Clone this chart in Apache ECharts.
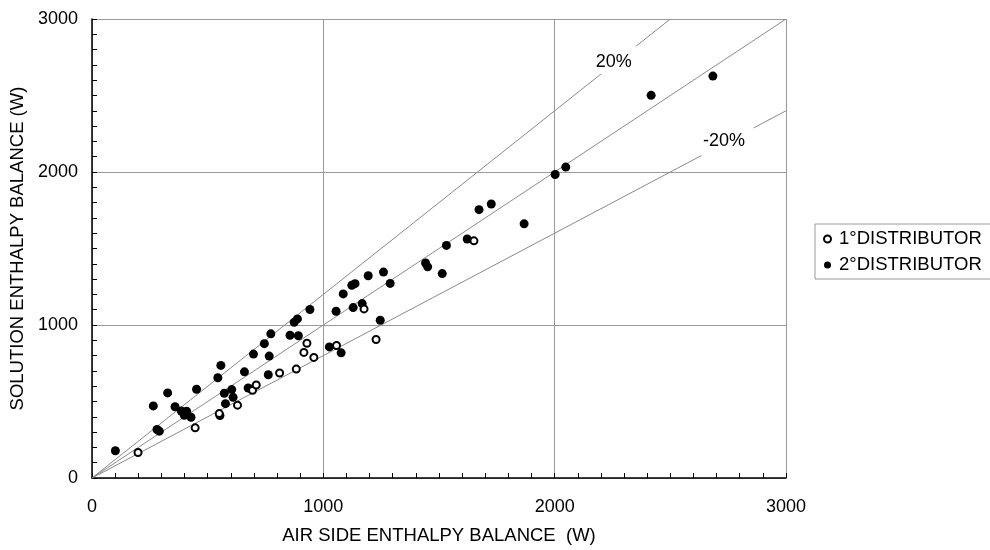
<!DOCTYPE html>
<html>
<head>
<meta charset="utf-8">
<title>enthalpy balance</title>
<script src="https://cdn.jsdelivr.net/npm/echarts@6/dist/echarts.min.js"></script>
<style>
  html, body { margin: 0; padding: 0; background: #fff; }
  #chart { width: 990px; height: 550px; }
</style>
</head>
<body>
<div id="chart"></div>
<script>
// 1° distributor (open circles): [air side W, solution W]
var dist1 = [
  [199, 167], [446, 328], [550, 421], [629, 476], [694, 573], [710, 608],
  [811, 686], [883, 712], [916, 821], [929, 881], [959, 788], [1057, 866],
  [1176, 1105], [1228, 905], [1651, 1550]
];
// 2° distributor (filled circles)
var dist2 = [
  [101, 178], [265, 471], [281, 317], [291, 306], [327, 556], [359, 466],
  [386, 438], [399, 410], [409, 436], [428, 397], [452, 580], [544, 655],
  [553, 408], [557, 736], [572, 554], [577, 486], [604, 578], [610, 527],
  [659, 694], [675, 588], [690, 580], [698, 810], [745, 878], [762, 675],
  [766, 797], [773, 942], [856, 933], [874, 1018], [888, 1040], [892, 930],
  [942, 1101], [1026, 857], [1055, 1090], [1077, 818], [1086, 1203],
  [1123, 1259], [1137, 1270], [1129, 1114], [1168, 1140], [1194, 1322],
  [1246, 1031], [1260, 1346], [1289, 1272], [1442, 1405], [1451, 1380],
  [1514, 1336], [1532, 1520], [1622, 1562], [1673, 1754], [1726, 1791],
  [1868, 1661], [2002, 1984], [2048, 2032], [2417, 2501], [2684, 2627]
];
var seriesNames = ["1°DISTRIBUTOR", "2°DISTRIBUTOR"];

// reference lines y = k*x, drawn in pieces (gaps where the labels sit)
var refSlopes = [1.0, 1.2, 0.8];
var refPieces = [
  [[0, 3000]],
  [[0, 2200], [2350, 2500]],
  [[0, 2635], [2860, 3000]]
];
var refLabels = ["20%", "-20%"];
var refLabelPos = [[2255, 2720], [2732, 2200]];

var axisTicks = [0, 1000, 2000, 3000];

var FONT = "Liberation Sans, Arial, sans-serif";

var myChart = echarts.init(document.getElementById("chart"), null, { renderer: "canvas" });

var series = [];
for (var i = 0; i < refSlopes.length; i++) {
  for (var j = 0; j < refPieces[i].length; j++) {
    var p = refPieces[i][j];
    series.push({
      type: "line",
      silent: true,
      symbol: "none",
      z: 1,
      lineStyle: { color: "#8a8a8a", width: 1 },
      data: [[p[0], p[0] * refSlopes[i]], [p[1], p[1] * refSlopes[i]]]
    });
  }
}
series.push({
  type: "scatter",
  silent: true,
  symbolSize: 0,
  z: 2,
  itemStyle: { opacity: 1 },
  label: {
    show: true,
    position: "inside",
    formatter: function (params) { return refLabels[params.dataIndex]; },
    color: "#000",
    fontSize: 18,
    fontFamily: FONT
  },
  data: refLabelPos
});
series.push({
  name: seriesNames[0],
  type: "scatter",
  symbol: "circle",
  symbolSize: 7,
  z: 5,
  itemStyle: { color: "#fff", borderColor: "#000", borderWidth: 2, opacity: 1 },
  data: dist1
});
series.push({
  name: seriesNames[1],
  type: "scatter",
  symbol: "circle",
  symbolSize: 9,
  z: 4,
  itemStyle: { color: "#000", opacity: 1 },
  data: dist2
});

var option = {
  backgroundColor: "#fff",
  animation: false,
  grid: { left: 92, right: 204, top: 19, bottom: 69 },
  legend: {
    orient: "vertical",
    left: 815,
    top: 224,
    padding: [5, 14, 4, 8],
    itemGap: 6,
    itemWidth: 7,
    itemHeight: 7,
    borderColor: "#999",
    borderWidth: 1,
    data: seriesNames,
    textStyle: { color: "#000", fontSize: 18.5, fontFamily: FONT, lineHeight: 20, padding: [0, 0, 0, 3] }
  },
  xAxis: {
    type: "value",
    min: axisTicks[0],
    max: axisTicks[axisTicks.length - 1],
    interval: 1000,
    name: "AIR SIDE ENTHALPY BALANCE  (W)",
    nameLocation: "middle",
    nameGap: 48,
    nameTextStyle: { color: "#000", fontSize: 18.5, fontFamily: FONT },
    axisLine: { lineStyle: { color: "#000", width: 1.5 } },
    axisTick: { inside: true, length: 5, lineStyle: { color: "#000" } },
    minorTick: { show: true, splitNumber: 10, length: 5, lineStyle: { color: "#000" } },
    axisLabel: { color: "#000", fontSize: 18, fontFamily: FONT, margin: 20, formatter: function (v) { return String(v); } },
    splitLine: { show: true, lineStyle: { color: "#9a9a9a", width: 1 } }
  },
  yAxis: {
    type: "value",
    min: axisTicks[0],
    max: axisTicks[axisTicks.length - 1],
    interval: 1000,
    name: "SOLUTION ENTHALPY BALANCE (W)",
    nameLocation: "middle",
    nameGap: 54,
    nameTextStyle: { color: "#000", fontSize: 18.5, fontFamily: FONT },
    axisLine: { show: true, lineStyle: { color: "#000", width: 1.5 } },
    axisTick: { show: true, inside: true, length: 5, lineStyle: { color: "#000" } },
    minorTick: { show: true, splitNumber: 10, length: 5, lineStyle: { color: "#000" } },
    axisLabel: { color: "#000", fontSize: 18, fontFamily: FONT, margin: 14, formatter: function (v) { return String(v); } },
    splitLine: { show: true, lineStyle: { color: "#9a9a9a", width: 1 } }
  },
  series: series
};

option && myChart.setOption(option);
</script>
</body>
</html>
